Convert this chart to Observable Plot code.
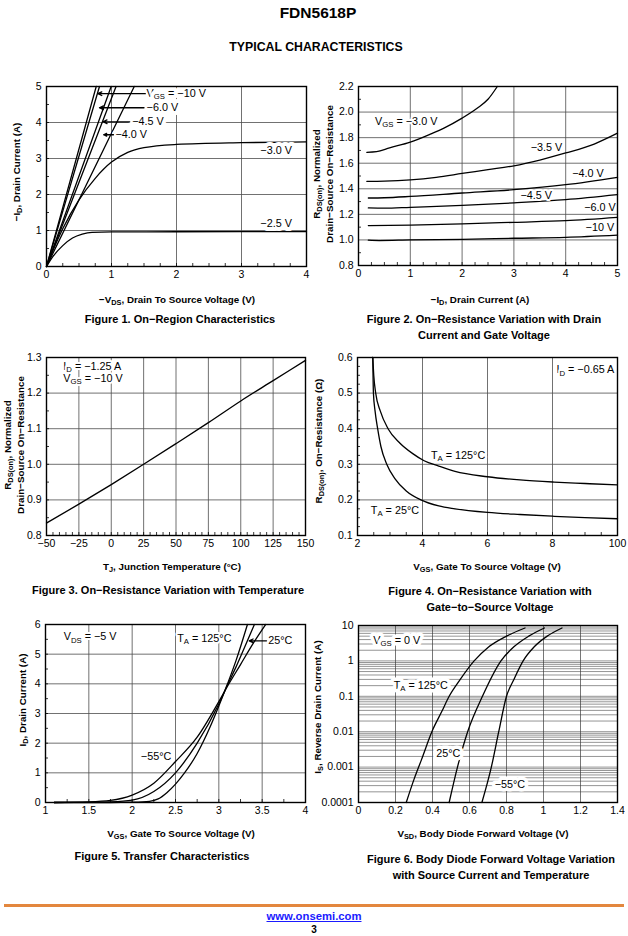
<!DOCTYPE html>
<html><head><meta charset="utf-8">
<script src="https://cdn.jsdelivr.net/npm/d3@7"></script>
<script src="https://cdn.jsdelivr.net/npm/@observablehq/plot@0.6"></script>
<style>
body{margin:0;background:#fff;}
#page{position:relative;width:628px;height:936px;overflow:hidden;font-family:"Liberation Sans",Arial,Helvetica,sans-serif;color:#000;background:#fff;}
.t{position:absolute;white-space:nowrap;text-align:center;}
.b{font-weight:bold;}
.ax{font-weight:bold;font-size:9.8px;}
.cap{font-weight:bold;font-size:11px;line-height:15.5px;}
sub{font-size:75%;vertical-align:-0.28em;line-height:0;}
</style></head>
<body><div id="page"></div>
<script>
// ---------------- DATA ----------------
// Figure 1: On-Region Characteristics  [-VDS (V), -ID (A)]
const fig1_vgs10 = [[0,0],[0.765,5]];
const fig1_vgs6  = [[0,0],[0.815,5]];
const fig1_vgs45 = [[0,0],[0.995,5]];
const fig1_vgs4  = [[0,0],[1.07,5]];
const fig1_vgs35 = [[0,0],[1.35,5]];
const fig1_vgs3  = [[0,0],[0.1,0.45],[0.25,1.05],[0.5,1.85],[0.75,2.45],[1.0,2.9],[1.25,3.17],[1.5,3.3],[2,3.39],[3,3.44],[4,3.46]];
const fig1_vgs25 = [[0,0],[0.1,0.28],[0.25,0.58],[0.4,0.79],[0.55,0.9],[0.7,0.95],[1,0.96],[2,0.965],[4,0.97]];
const fig1Labels = [
  {x:1.54,y:4.8,text:"V[GS] = −10 V"},
  {x:1.54,y:4.41,text:"−6.0 V"},
  {x:1.32,y:4.02,text:"−4.5 V"},
  {x:1.06,y:3.66,text:"−4.0 V"},
  {x:3.29,y:3.22,text:"−3.0 V"},
  {x:3.29,y:1.2,text:"−2.5 V"}
];
const fig1Arrows = [
  {x1:1.52,y1:4.8,x2:0.79,y2:4.8},
  {x1:1.50,y1:4.41,x2:0.815,y2:4.41},
  {x1:1.28,y1:4.02,x2:0.87,y2:4.02},
  {x1:1.03,y1:3.66,x2:0.88,y2:3.66}
];
const fig1XTicks = [0,1,2,3,4], fig1XLabels = ["0","1","2","3","4"];
const fig1YTicks = [0,1,2,3,4,5], fig1YLabels = ["0","1","2","3","4","5"];

// Figure 2: normalized RDS(on) vs -ID
const fig2_vgs30 = [[0.16,1.685],[0.35,1.69],[0.6,1.72],[1.0,1.765],[1.4,1.83],[1.65,1.875],[2.0,1.953],[2.29,2.03],[2.5,2.1],[2.68,2.2]];
const fig2_vgs35 = [[0.16,1.458],[0.5,1.46],[1.0,1.47],[1.5,1.49],[2.0,1.52],[2.5,1.55],[3.0,1.58],[3.5,1.625],[4.0,1.68],[4.55,1.75],[5,1.835]];
const fig2_vgs40 = [[0.19,1.328],[0.5,1.33],[1,1.34],[2,1.367],[3,1.393],[4,1.432],[5,1.49]];
const fig2_vgs45 = [[0.19,1.25],[0.5,1.248],[1,1.255],[2,1.27],[3,1.29],[4,1.315],[5,1.354]];
const fig2_vgs60 = [[0.19,1.112],[1,1.115],[2,1.125],[3,1.138],[4,1.151],[5,1.177]];
const fig2_vgs10 = [[0.19,0.998],[0.4,0.995],[1,1.0],[2,1.005],[3,1.013],[4,1.02],[5,1.037]];
const fig2Labels = [
  {x:0.32,y:1.927,text:"V[GS] = −3.0 V",a:"start"},
  {x:3.63,y:1.724,text:"−3.5 V",a:"middle"},
  {x:4.43,y:1.523,text:"−4.0 V",a:"middle"},
  {x:3.43,y:1.346,text:"−4.5 V",a:"middle"},
  {x:4.66,y:1.255,text:"−6.0 V",a:"middle"},
  {x:4.66,y:1.094,text:"−10 V",a:"middle"}
];
const fig2XTicks = [0,1,2,3,4,5], fig2XLabels = ["0","1","2","3","4","5"];
const fig2YTicks = [0.8,1.0,1.2,1.4,1.6,1.8,2.0,2.2], fig2YLabels = ["0.8","1.0","1.2","1.4","1.6","1.8","2.0","2.2"];

// Figure 3: normalized RDS(on) vs TJ
const fig3_rds = [[-50,0.835],[-25,0.888],[0,0.943],[25,1.0],[50,1.058],[75,1.117],[100,1.178],[125,1.235],[150,1.292]];
const fig3Labels = [
  {x:-37,y:1.276,text:"I[D] = −1.25 A"},
  {x:-37,y:1.240,text:"V[GS] = −10 V"}
];
const fig3XTicks = [-50,-25,0,25,50,75,100,125,150], fig3XLabels = ["−50","−25","0","25","50","75","100","125","150"];
const fig3YTicks = [0.8,0.9,1.0,1.1,1.2,1.3], fig3YLabels = ["0.8","0.9","1.0","1.1","1.2","1.3"];

// Figure 4: RDS(on) vs VGS
const fig4_t125 = [[2.47,0.6],[2.5,0.55],[2.56,0.5],[2.7,0.45],[2.94,0.4],[3.3,0.36],[3.7,0.33],[4.05,0.31],[4.5,0.295],[5.0,0.28],[6.0,0.265],[7.0,0.256],[8.05,0.25],[9,0.246],[10,0.242]];
const fig4_t25  = [[2.47,0.6],[2.49,0.5],[2.54,0.45],[2.62,0.4],[2.72,0.35],[2.9,0.3],[3.15,0.26],[3.5,0.225],[3.95,0.2],[4.5,0.183],[5,0.175],[6,0.165],[7,0.159],[8.05,0.154],[9,0.15],[10,0.147]];
const fig4Labels = [
  {x:4.26,y:0.324,text:"T[A] = 125°C",a:"start"},
  {x:2.41,y:0.17,text:"T[A] = 25°C",a:"start"},
  {x:9.9,y:0.565,text:"I[D] = −0.65 A",a:"end"}
];
const fig4XTicks = [2,4,6,8,10], fig4XLabels = ["2","4","6","8","100"];
const fig4YTicks = [0.1,0.2,0.3,0.4,0.5,0.6], fig4YLabels = ["0.1","0.2","0.3","0.4","0.5","0.6"];

// Figure 5: Transfer characteristics
const fig5_hot  = [[1.1,0],[1.5,0.02],[1.75,0.07],[2.0,0.25],[2.25,0.65],[2.5,1.38],[2.75,2.2],[3.0,3.4],[3.1,3.92],[3.25,4.65],[3.4,5.38],[3.54,6.0]];
const fig5_mid  = [[1.1,0],[1.5,0.005],[1.75,0.02],[2.0,0.08],[2.25,0.37],[2.5,1.0],[2.75,2.0],[3.0,3.32],[3.1,3.96],[3.2,4.58],[3.3,5.25],[3.41,6.0]];
const fig5_cold = [[1.1,0],[1.75,0],[2.0,0.01],[2.2,0.04],[2.3,0.12],[2.4,0.33],[2.5,0.62],[2.6,0.98],[2.75,1.65],[2.9,2.55],[3.0,3.25],[3.1,4.0],[3.2,4.8],[3.33,6.0]];
const fig5Labels = [
  {x:1.21,y:5.58,text:"V[DS] = −5 V"},
  {x:2.52,y:5.52,text:"T[A] = 125°C"},
  {x:3.57,y:5.45,text:"25°C"},
  {x:2.10,y:1.55,text:"−55°C"}
];
const fig5Arrows = [{x1:3.55,y1:5.45,x2:3.35,y2:5.45}];
const fig5XTicks = [1,1.5,2,2.5,3,3.5,4], fig5XLabels = ["1","1.5","2","2.5","3","3.5","4"];
const fig5YTicks = [0,1,2,3,4,5,6], fig5YLabels = ["0","1","2","3","4","5","6"];

// Figure 6: Body diode forward voltage
const fig6_t125 = [[0.258,1e-4],[0.30,4.5e-4],[0.34,0.0016],[0.40,0.011],[0.45,0.037],[0.49,0.1],[0.55,0.3],[0.625,1],[0.70,2.4],[0.80,5],[0.90,8.5]];
const fig6_t25  = [[0.49,1e-4],[0.535,0.001],[0.59,0.01],[0.67,0.1],[0.77,1],[0.84,2.5],[0.92,5],[1.005,8.5]];
const fig6_tm55 = [[0.667,1e-4],[0.718,0.001],[0.758,0.01],[0.80,0.1],[0.84,0.3],[0.89,1],[0.95,2.5],[1.02,5],[1.10,8.5]];
const fig6Labels = [
  {x:0.08,y:3.8,text:"V[GS] = 0 V"},
  {x:0.19,y:0.2,text:"T[A] = 125°C"},
  {x:0.42,y:0.00245,text:"25°C"},
  {x:0.736,y:0.00033,text:"−55°C"}
];
const fig6XTicks = [0,0.2,0.4,0.6,0.8,1,1.2,1.4], fig6XLabels = ["0","0.2","0.4","0.6","0.8","1","1.2","1.4"];
const fig6YTicks = [0.0001,0.001,0.01,0.1,1,10], fig6YLabels = ["0.0001","0.001","0.01","0.1","1","10"];
const fig6Decades = [0.0001,0.001,0.01,0.1,1];

// ---------------- RENDER ----------------
const FONT = '"Liberation Sans", Arial, Helvetica, sans-serif';
const GRID = "#4d4d4d";
const TICKFS = 10.5, LABFS = 10.8;
const page = document.getElementById("page");
const rows = (obj) => Object.entries(obj).flatMap(([s, pts]) => pts.map(([x, y]) => ({s, x, y})));

function subs(svg){
  const NS = "http://www.w3.org/2000/svg";
  svg.querySelectorAll("text").forEach(t => {
    if (t.children.length) return;
    const s = t.textContent;
    if (!s.includes("[")) return;
    const fs = parseFloat(getComputedStyle(t).fontSize) || 10;
    t.textContent = "";
    let shifted = false;
    for (const p of s.split(/(\[[^\]]*\])/)) {
      if (!p) continue;
      const ts = document.createElementNS(NS, "tspan");
      if (p[0] === "[") { ts.textContent = p.slice(1, -1); ts.setAttribute("font-size", fs * 0.72); ts.setAttribute("dy", fs * 0.2); shifted = true; }
      else { ts.textContent = p; if (shifted) { ts.setAttribute("dy", -fs * 0.2); shifted = false; } }
      t.appendChild(ts);
    }
  });
}

function txt(html, cx, cy, cls, rot){
  const d = document.createElement("div");
  d.className = "t " + (cls || "");
  d.innerHTML = html;
  d.style.left = cx + "px"; d.style.top = cy + "px";
  d.style.transform = "translate(-50%,-50%)" + (rot ? " rotate(-90deg)" : "");
  page.appendChild(d);
  return d;
}

function panel(o){
  const mL = 48, mR = 14, mT = 8, mB = 24;
  const W = o.frame[2] - o.frame[0], H = o.frame[3] - o.frame[1];
  const fmt = (ticks, labels) => d => labels[ticks.indexOf(d)];
  const marks = [
    Plot.gridX(o.xGrid, {stroke: o.gridXColor || GRID, strokeOpacity: 1, strokeWidth: o.gridXWidth || 0.8}),
    Plot.gridY(o.yGrid, {stroke: o.gridYColor || GRID, strokeOpacity: 1, strokeWidth: o.gridYWidth || 0.8})
  ];
  if (o.xMinor) marks.push(Plot.ruleX(o.xMinor, {insetTop: H - 3, stroke: "#000", strokeWidth: 0.8}));
  if (o.yMinor) marks.push(Plot.ruleY(o.yMinor, {insetRight: W - 3, stroke: "#000", strokeWidth: 0.8}));
  marks.push(Plot.axisX(o.xTicks, {tickSize: 0, tickPadding: 4, tickFormat: fmt(o.xTicks, o.xLabels), label: null, fontSize: TICKFS}));
  marks.push(Plot.axisY(o.yTicks, {tickSize: 0, tickPadding: 5, tickFormat: fmt(o.yTicks, o.yLabels), label: null, fontSize: TICKFS}));
  marks.push(...o.marks);
  marks.push(Plot.frame({stroke: "#000", strokeWidth: 1.4}));
  const svg = Plot.plot({
    width: W + mL + mR, height: H + mT + mB,
    marginLeft: mL, marginRight: mR, marginTop: mT, marginBottom: mB,
    x: {type: o.xType || "linear", domain: o.xDomain},
    y: {type: o.yType || "linear", domain: o.yDomain},
    style: {fontFamily: FONT, fontSize: TICKFS + "px", background: "transparent", overflow: "visible", color: "#000"},
    marks
  });
  svg.style.position = "absolute";
  svg.style.left = (o.frame[0] - mL) + "px";
  svg.style.top = (o.frame[1] - mT) + "px";
  page.appendChild(svg);
  subs(svg);
}

const lineOpts = {x: "x", y: "y", z: "s", stroke: "#000", strokeWidth: 1.3, curve: "monotone-x"};
const labelOpts = (extra) => ({x: "x", y: "y", text: "text", fontSize: LABFS, fill: "#000", stroke: "white", strokeWidth: 3, paintOrder: "stroke", textAnchor: "start", ...extra});
const anchored = (labels, extra) => ["start", "middle", "end"].map(a =>
  Plot.text(labels.filter(d => (d.a || "start") === a), labelOpts({textAnchor: a, ...extra})));
const arrowOpts = {x1: "x1", y1: "y1", x2: "x2", y2: "y2", stroke: "#000", strokeWidth: 1.3, headLength: 5, headAngle: 50};

// Figure 1
panel({
  frame: [46, 86, 306, 266], xDomain: [0, 4], yDomain: [0, 5],
  xTicks: fig1XTicks, xLabels: fig1XLabels, yTicks: fig1YTicks, yLabels: fig1YLabels,
  xGrid: fig1XTicks.slice(1, -1), yGrid: fig1YTicks.slice(1, -1),
  xMinor: d3.range(0.25, 4, 0.25), yMinor: d3.range(0.5, 5, 0.5),
  marks: [
    Plot.line(rows({fig1_vgs10, fig1_vgs6, fig1_vgs45, fig1_vgs4, fig1_vgs35}), {...lineOpts, curve: "linear"}),
    Plot.line(rows({fig1_vgs3, fig1_vgs25}), lineOpts),
    ...anchored(fig1Labels, {strokeWidth: 8}),
    Plot.arrow(fig1Arrows, arrowOpts)
  ]
});

// Figure 2
panel({
  frame: [358, 86, 617, 265], xDomain: [0, 5], yDomain: [0.8, 2.2],
  xTicks: fig2XTicks, xLabels: fig2XLabels, yTicks: fig2YTicks, yLabels: fig2YLabels,
  xGrid: fig2XTicks.slice(1, -1), yGrid: fig2YTicks.slice(1, -1),
  xMinor: d3.range(0.25, 5, 0.25), yMinor: d3.range(0.9, 2.2, 0.2),
  marks: [
    Plot.line(rows({fig2_vgs30, fig2_vgs35, fig2_vgs40, fig2_vgs45, fig2_vgs60, fig2_vgs10}), lineOpts),
    ...anchored(fig2Labels, {strokeWidth: 4})
  ]
});

// Figure 3
panel({
  frame: [46, 357, 305, 535], xDomain: [-50, 150], yDomain: [0.8, 1.3],
  xTicks: fig3XTicks, xLabels: fig3XLabels, yTicks: fig3YTicks, yLabels: fig3YLabels,
  xGrid: fig3XTicks.slice(1, -1), yGrid: fig3YTicks.slice(1, -1),
  xMinor: d3.range(-45, 150, 5), yMinor: d3.range(0.85, 1.3, 0.05),
  marks: [
    Plot.line(rows({fig3_rds}), lineOpts),
    ...anchored(fig3Labels, {strokeWidth: 4})
  ]
});

// Figure 4
panel({
  frame: [357, 357, 617, 535], xDomain: [2, 10], yDomain: [0.1, 0.6],
  xTicks: fig4XTicks, xLabels: fig4XLabels, yTicks: fig4YTicks, yLabels: fig4YLabels,
  xGrid: fig4XTicks.slice(1, -1), yGrid: fig4YTicks.slice(1, -1),
  xMinor: d3.range(2.5, 10, 0.5), yMinor: d3.range(0.125, 0.6, 0.025),
  marks: [
    Plot.line(rows({fig4_t125, fig4_t25}), lineOpts),
    ...anchored(fig4Labels, {strokeWidth: 4})
  ]
});

// Figure 5
panel({
  frame: [45, 624, 305, 802], xDomain: [1, 4], yDomain: [0, 6],
  xTicks: fig5XTicks, xLabels: fig5XLabels, yTicks: fig5YTicks, yLabels: fig5YLabels,
  xGrid: fig5XTicks.slice(1, -1), yGrid: fig5YTicks.slice(1, -1),
  xMinor: d3.range(1.25, 4, 0.25), yMinor: d3.range(0.5, 6, 0.5),
  marks: [
    Plot.line(rows({fig5_hot, fig5_mid, fig5_cold}), lineOpts),
    Plot.arrow(fig5Arrows, arrowOpts),
    ...anchored(fig5Labels, {strokeWidth: 4})
  ]
});

// Figure 6
panel({
  frame: [358, 625, 617, 802], xDomain: [0, 1.4], yDomain: [0.0001, 10], yType: "log",
  xTicks: fig6XTicks, xLabels: fig6XLabels, yTicks: fig6YTicks, yLabels: fig6YLabels,
  xGrid: fig6XTicks.slice(1, -1), gridXColor: "#777", gridXWidth: 1,
  yGrid: fig6Decades.flatMap(d => d3.range(1, 10).map(k => k * d)).filter(v => v > 0.0001),
  gridYColor: "#3a3a3a", gridYWidth: 0.55,
  marks: [
    Plot.line(rows({fig6_t125, fig6_t25, fig6_tm55}), lineOpts),
    ...anchored(fig6Labels, {strokeWidth: 7})
  ]
});

// ---------------- TEXT ----------------
txt("FDN5618P", 318, 13, "b").style.fontSize = "15.5px";
txt("TYPICAL CHARACTERISTICS", 316, 47, "b").style.fontSize = "12.3px";

txt("−I<sub>D</sub>, Drain Current (A)", 16, 172, "ax", true);
txt("R<sub>DS(on)</sub>, Normalized<br>Drain−Source On−Resistance", 323, 174, "ax", true).style.lineHeight = "12.5px";
txt("R<sub>DS(on)</sub>, Normalized<br>Drain−Source On−Resistance", 14, 445, "ax", true).style.lineHeight = "12.5px";
txt("R<sub>DS(on)</sub>, On−Resistance (Ω)", 318, 441, "ax", true);
txt("I<sub>D</sub>, Drain Current (A)", 22, 700, "ax", true);
txt("I<sub>S</sub>, Reverse Drain Current (A)", 317, 707, "ax", true);

txt("−V<sub>DS</sub>, Drain To Source Voltage (V)", 177, 299, "ax");
txt("−I<sub>D</sub>, Drain Current (A)", 480, 299, "ax");
txt("T<sub>J</sub>, Junction Temperature (°C)", 172, 566, "ax");
txt("V<sub>GS</sub>, Gate To Source Voltage (V)", 487, 566, "ax");
txt("V<sub>GS</sub>, Gate To Source Voltage (V)", 181, 833, "ax");
txt("V<sub>SD</sub>, Body Diode Forward Voltage (V)", 483, 833, "ax");

txt("Figure 1. On−Region Characteristics", 180, 320, "cap");
txt("Figure 2. On−Resistance Variation with Drain<br>Current and Gate Voltage", 484, 327, "cap");
txt("Figure 3. On−Resistance Variation with Temperature", 168, 591, "cap");
txt("Figure 4. On−Resistance Variation with<br>Gate−to−Source Voltage", 490, 599, "cap");
txt("Figure 5. Transfer Characteristics", 162, 857, "cap");
txt("Figure 6. Body Diode Forward Voltage Variation<br>with Source Current and Temperature", 491, 867, "cap");

const rule = document.createElement("div");
rule.style.cssText = "position:absolute;left:4px;top:904px;width:620px;height:2.5px;background:#e3873e;";
page.appendChild(rule);
const link = txt("www.onsemi.com", 314, 916, "b");
link.style.cssText += "font-size:11.3px;color:#1a1aff;text-decoration:underline;";
txt("3", 314, 929, "b").style.fontSize = "10px";
</script>
</body></html>
